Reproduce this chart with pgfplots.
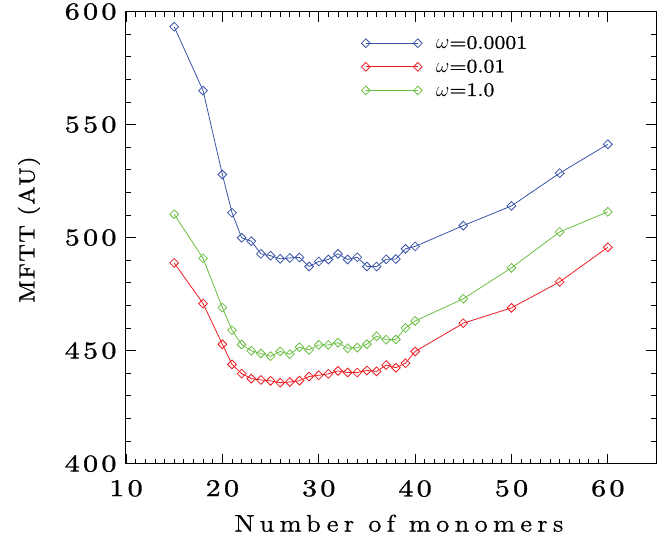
\documentclass[border=0pt]{standalone}
\usepackage{fontspec}
\usepackage{pgfplots}
\pgfplotsset{compat=1.18}
\newfontfamily\lmtick{lmroman10-regular}[Extension=.otf, LetterSpace=14, FakeStretch=1.25, FakeBold=1.2]
\newfontfamily\lmxlab{lmroman10-regular}[Extension=.otf, LetterSpace=22, FakeStretch=1.1, FakeBold=0.6]
\newfontfamily\lmylab{lmroman10-regular}[Extension=.otf, LetterSpace=7, FakeStretch=1.1, FakeBold=1.2]
\newfontfamily\lmleg{lmroman10-regular}[Extension=.otf, LetterSpace=0, FakeStretch=1.15, FakeBold=1.0]
\definecolor{cblue}{RGB}{57,84,168}
\definecolor{cred}{RGB}{235,30,35}
\definecolor{cgreen}{RGB}{105,190,65}
\newcommand{\tickfont}{\lmtick\fontsize{24bp}{28bp}\selectfont}
\newcommand{\labfont}{\lmxlab\fontsize{24bp}{28bp}\selectfont}
\newcommand{\ylabfont}{\lmylab\fontsize{22bp}{26bp}\selectfont}
\newcommand{\legfont}{\lmleg\fontsize{19bp}{22bp}\selectfont}
\begin{document}
\begin{tikzpicture}
\begin{axis}[
  width=530bp, height=452bp, scale only axis,
  xmin=10, xmax=65, ymin=400, ymax=600,
  xtick={10,20,...,60}, ytick={400,450,...,600},
  minor x tick num=9, minor y tick num=4,
  tick align=inside,
  major tick length=10bp, minor tick length=5bp,
  axis line style={line width=1bp},
  every tick/.style={black, line width=0.8bp},
  /pgf/number format/assume math mode=true,
  tick label style={font=\tickfont},
  yticklabel style={xshift=-6bp},
  xticklabel style={yshift=-13bp},
  xlabel={Number of monomers},
  ylabel={MFTT (AU)},
  every axis x label/.style={at={([xshift=8bp,yshift=-68bp]axis description cs:0.5,0)}, anchor=base, font=\labfont},
  every axis y label/.style={at={([xshift=-97bp,yshift=8bp]axis description cs:0,0.5)}, rotate=90, anchor=center, font=\ylabfont},
  legend style={draw=none, fill=none, at={(0.44,0.955)}, anchor=north west,
    font=\legfont, row sep=5.5bp, column sep=12bp, inner sep=2bp},
  legend cell align=left,
  legend image code/.code={\draw plot coordinates {(0bp,0bp) (52bp,0bp)};},
  every axis plot/.append style={line width=0.8bp, mark=square, mark size=3.1bp,
    mark options={rotate=45, solid, fill=none}},
]
\addplot[cblue] coordinates {
(15,593.3) (18,565) (20,527.9) (21,511) (22,499.9) (23,498.4) (24,492.8) (25,492.0)
(26,490.6) (27,491.0) (28,491.2) (29,487.2) (30,489.4) (31,490.3) (32,492.8) (33,490.3)
(34,491.3) (35,487.2) (36,487.2) (37,490.4) (38,490.5) (39,495.0) (40,496.1)
(45,505.3) (50,514.0) (55,528.5) (60,541.3)};
\addlegendentry{$\omega$=0.0001}
\addplot[cred] coordinates {
(15,488.8) (18,470.8) (20,452.8) (21,443.9) (22,439.8) (23,437.6) (24,437.0) (25,436.6)
(26,435.8) (27,436.1) (28,436.7) (29,438.5) (30,439.1) (31,439.7) (32,441.0) (33,440.3)
(34,440.3) (35,441.2) (36,440.8) (37,443.6) (38,442.4) (39,444.4) (40,449.6)
(45,462.1) (50,468.9) (55,480.4) (60,495.7)};
\addlegendentry{$\omega$=0.01}
\addplot[cgreen] coordinates {
(15,510.3) (18,490.8) (20,469.0) (21,459.0) (22,452.7) (23,449.9) (24,448.7) (25,447.5)
(26,449.6) (27,448.4) (28,451.5) (29,450.3) (30,452.5) (31,452.5) (32,453.5) (33,451.0)
(34,451.3) (35,452.8) (36,456.3) (37,454.8) (38,454.9) (39,460.0) (40,463.1)
(45,472.9) (50,486.6) (55,502.5) (60,511.4)};
\addlegendentry{$\omega$=1.0}
\end{axis}
\path ([xshift=-126bp,yshift=-80bp]current axis.south west) rectangle ([xshift=11bp,yshift=11bp]current axis.north east);
\end{tikzpicture}
\end{document}
